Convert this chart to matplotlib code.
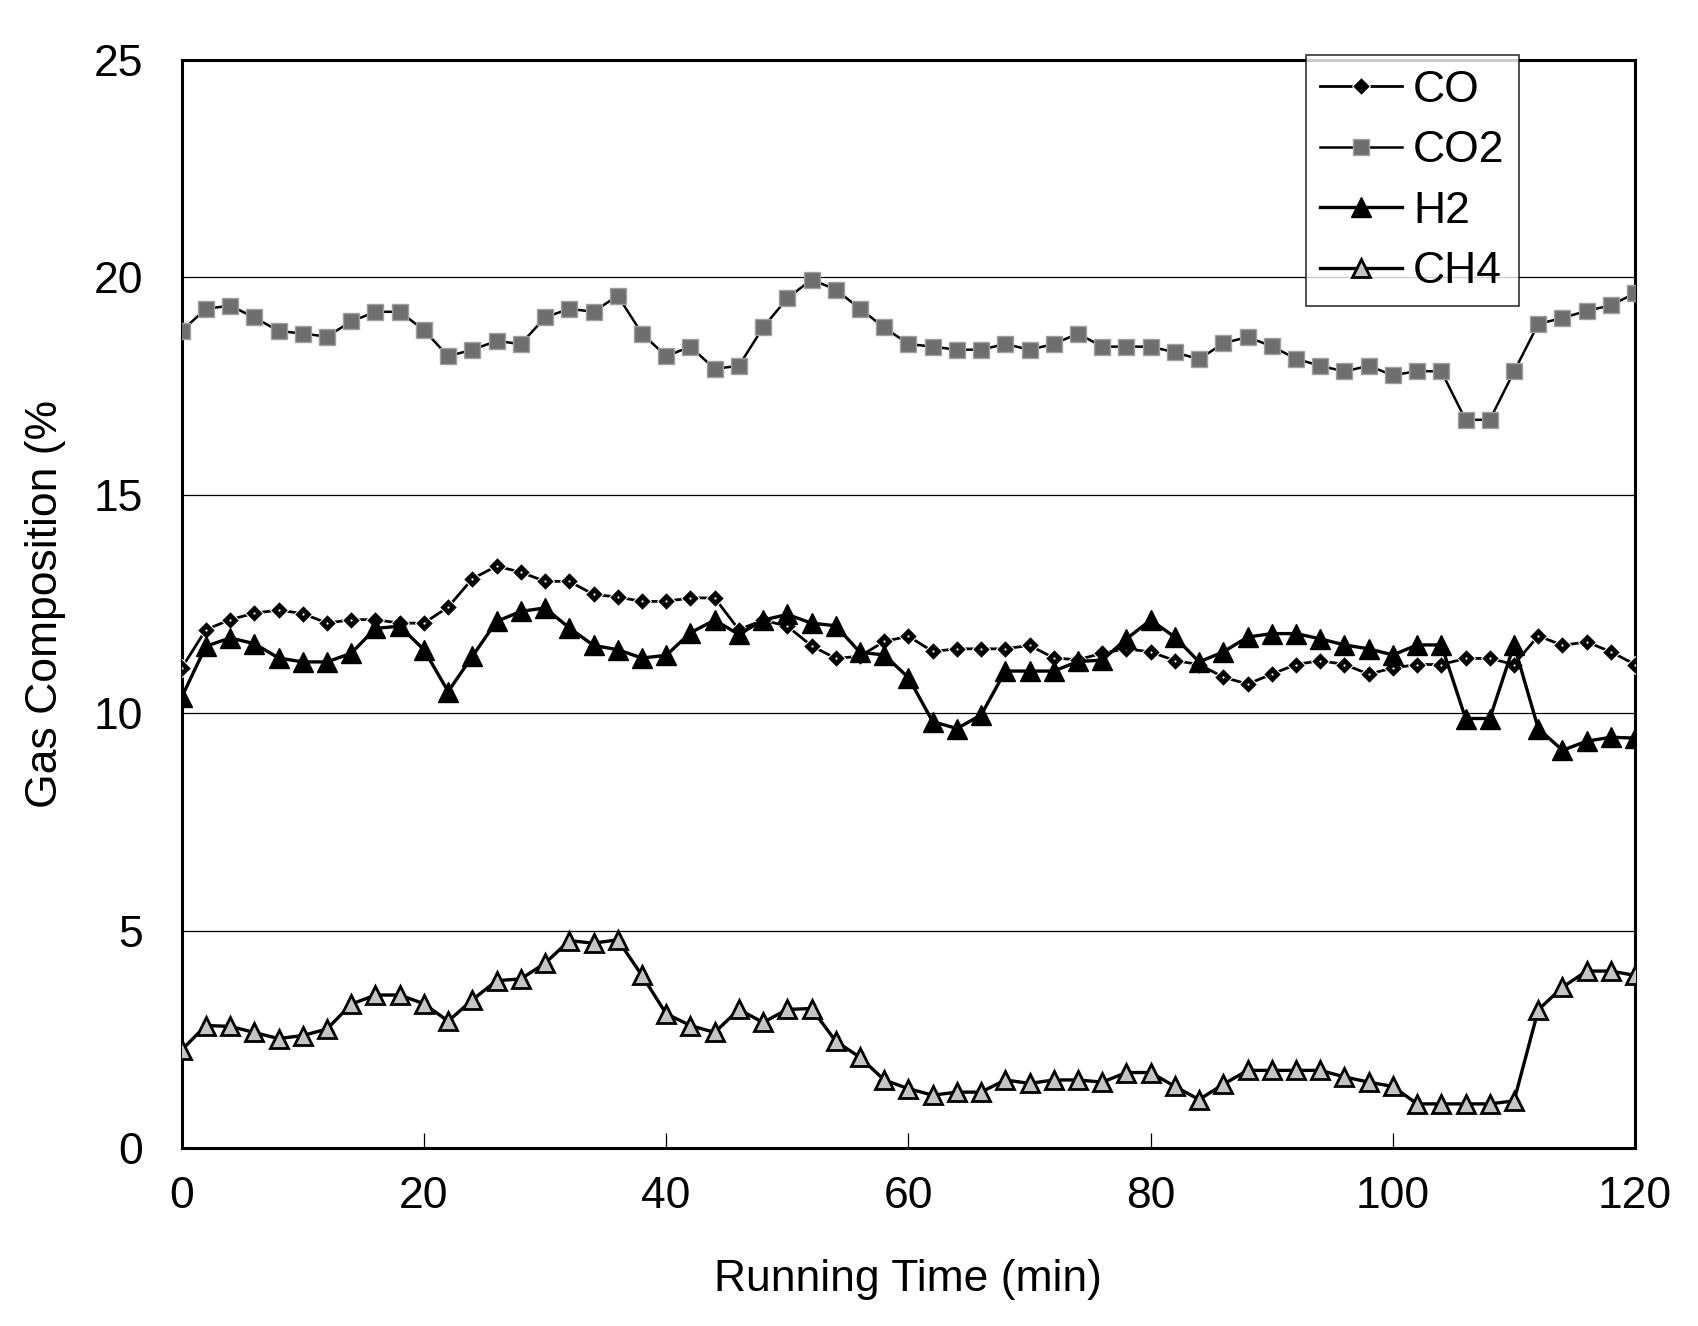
import numpy as np
import matplotlib
matplotlib.use('Agg')
import matplotlib.pyplot as plt
from matplotlib import rcParams
rcParams['font.family'] = ['Liberation Sans', 'DejaVu Sans']

# Running time (min), one sample every 2 minutes
time_min = list(range(0, 121, 2))

# Gas composition (%)
co = [11.03, 11.91, 12.14, 12.29, 12.36, 12.28, 12.06, 12.14, 12.14, 12.06, 12.06,
      12.43, 13.08, 13.37, 13.23, 13.02, 13.02, 12.72, 12.66, 12.56, 12.56,
      12.64, 12.64, 11.91, 12.13, 11.99, 11.54, 11.25, 11.30, 11.64, 11.76,
      11.41, 11.47, 11.47, 11.47, 11.55, 11.26, 11.22, 11.37, 11.47, 11.40,
      11.20, 11.11, 10.82, 10.66, 10.89, 11.11, 11.20, 11.11, 10.89, 11.03,
      11.11, 11.11, 11.25, 11.25, 11.11, 11.77, 11.55, 11.63, 11.40, 11.11]

co2 = [18.77, 19.28, 19.35, 19.08, 18.77, 18.71, 18.64, 18.99, 19.21, 19.21, 18.79,
       18.19, 18.34, 18.54, 18.47, 19.08, 19.28, 19.21, 19.58, 18.71, 18.19,
       18.41, 17.90, 17.97, 18.85, 19.52, 19.95, 19.72, 19.28, 18.85, 18.47,
       18.41, 18.34, 18.34, 18.47, 18.34, 18.47, 18.71, 18.41, 18.41, 18.41,
       18.28, 18.12, 18.49, 18.63, 18.42, 18.13, 17.97, 17.84, 17.97, 17.75,
       17.85, 17.84, 16.73, 16.73, 17.84, 18.93, 19.07, 19.23, 19.36, 19.64]

h2 = [10.36, 11.53, 11.72, 11.59, 11.26, 11.17, 11.17, 11.37, 11.94, 11.99, 11.45,
      10.49, 11.30, 12.10, 12.33, 12.41, 11.95, 11.55, 11.45, 11.26, 11.32,
      11.84, 12.13, 11.80, 12.13, 12.26, 12.06, 12.00, 11.39, 11.33, 10.81,
      9.80, 9.64, 9.95, 10.96, 10.96, 10.96, 11.18, 11.21, 11.70, 12.13,
      11.74, 11.17, 11.40, 11.74, 11.82, 11.82, 11.70, 11.56, 11.47, 11.33,
      11.56, 11.56, 9.87, 9.87, 11.56, 9.64, 9.14, 9.35, 9.44, 9.42]

ch4 = [2.26, 2.82, 2.80, 2.66, 2.52, 2.59, 2.74, 3.31, 3.52, 3.52, 3.32,
       2.92, 3.41, 3.85, 3.89, 4.25, 4.77, 4.71, 4.79, 3.97, 3.09,
       2.82, 2.66, 3.19, 2.89, 3.19, 3.21, 2.46, 2.09, 1.57, 1.37,
       1.22, 1.29, 1.29, 1.57, 1.49, 1.57, 1.57, 1.52, 1.74, 1.74,
       1.42, 1.12, 1.47, 1.79, 1.79, 1.79, 1.79, 1.64, 1.52, 1.42,
       1.02, 1.02, 1.02, 1.02, 1.09, 3.18, 3.70, 4.07, 4.07, 3.97]

x_ticks = [0, 20, 40, 60, 80, 100, 120]
y_ticks = [0, 5, 10, 15, 20, 25]


def visualization():
    fig = plt.figure(figsize=(16.98, 13.26), dpi=100)
    ax = fig.add_axes([0.107, 0.134, 0.856, 0.821])

    # horizontal grid lines like the excel chart
    for yv in y_ticks[1:-1]:
        ax.axhline(yv, color='black', lw=0.9, zorder=1)

    ax.plot(time_min, co, color='black', lw=2.0, marker='D', ms=9.5,
            mfc='black', mec='white', mew=0.8, label='CO', zorder=4)
    # little white dot in the middle of each diamond
    ax.plot(time_min, co, ls='none', marker='o', ms=1.6, mfc='white',
            mec='none', label='_nolegend_', zorder=4.5)
    ax.plot(time_min, co2, color='black', lw=1.8, marker='s', ms=12,
            mfc='#6e6e6e', mec='#a0a0a0', mew=1.0, label='CO2', zorder=3)
    ax.plot(time_min, h2, color='black', lw=2.4, marker='^', ms=14,
            mfc='black', mec='black', label='H2', zorder=5)
    ax.plot(time_min, ch4, color='black', lw=2.4, marker='^', ms=13,
            mfc='#c4c4c4', mec='black', mew=2.0, label='CH4', zorder=5)

    ax.set_xlim(0, 120)
    ax.set_ylim(0, 25)
    ax.set_xticks(x_ticks)
    ax.set_yticks(y_ticks)
    ax.tick_params(axis='x', direction='in', length=11, width=0.9,
                   labelsize=32, pad=20)
    ax.tick_params(axis='y', length=0, labelsize=32, pad=28)
    for s in ax.spines.values():
        s.set_linewidth(2.2)

    ax.set_xlabel('Running Time (min)', fontsize=32, labelpad=30)
    ax.set_ylabel('Gas Composition (%', fontsize=32, labelpad=20)

    leg = ax.legend(loc='upper right', bbox_to_anchor=(0.92, 1.004),
                    borderaxespad=0, fontsize=32, frameon=True, fancybox=False,
                    handlelength=1.85, handletextpad=0.25, labelspacing=0.44,
                    borderpad=0.32)
    leg.get_frame().set_edgecolor('black')
    leg.get_frame().set_linewidth(1.2)
    leg.set_zorder(10)

    fig.savefig('out.png', dpi=100, facecolor='white')


if __name__ == '__main__':
    visualization()
